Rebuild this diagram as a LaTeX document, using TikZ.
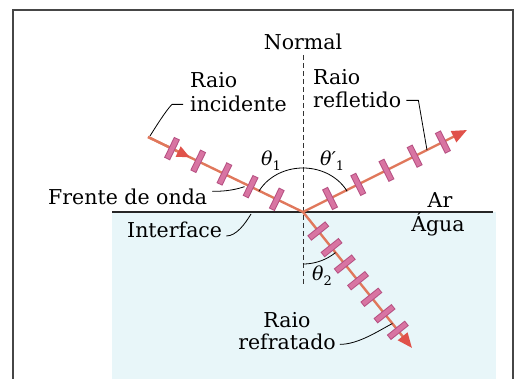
\documentclass[tikz,border=0pt]{standalone}
\usepackage{fontspec}
\setmainfont{DejaVu Serif}
\usetikzlibrary{calc,arrows.meta}
\definecolor{water}{RGB}{232,246,249}
\definecolor{raycol}{RGB}{224,120,92}
\definecolor{tickdark}{RGB}{182,80,130}
\definecolor{ticklight}{RGB}{216,116,162}
\definecolor{tipcol}{RGB}{224,82,74}
\definecolor{framecol}{RGB}{70,70,70}
\newcommand{\angsub}[1]{\raisebox{-4.5pt}{\fontsize{13}{14}\selectfont\upshape #1}}
\begin{document}
\begin{tikzpicture}[x=1pt,y=-1pt,
  lbl/.style={font=\fontsize{20.5}{24}\selectfont, inner sep=0pt},
  anglbl/.style={font=\fontsize{19}{22}\selectfont\itshape, inner sep=0pt},
  ray/.style={line width=2.4pt, draw=raycol},
  tickout/.style={line width=6.5pt, draw=tickdark},
  tickin/.style={line width=4.5pt, draw=ticklight},
  leader/.style={line width=0.8pt, draw=black},
  bigtip/.style={-{Triangle[length=15pt,width=12pt,color=tipcol]}}]
\useasboundingbox (0,0) rectangle (515,379);
% water
\fill[water] (112,212) rectangle (496,379);
% frame
\draw[line width=1.3pt, framecol] (13,379) -- (13,10) -- (513,10) -- (513,379);
% key points
\coordinate (O) at (303,212);
\coordinate (S) at (148,137);
\coordinate (R) at (467,130);
\coordinate (T) at (412,348);
\coordinate (N1) at (303,55);
\coordinate (N2) at (303,285);
\coordinate (IL) at (112,212);
\coordinate (IR) at (493,212);
% normal and interface
\draw[dash pattern=on 5pt off 3pt, line width=0.8pt, black!80] (N1) -- (N2);
\draw[line width=1.1pt, black!85] (IL) -- (IR);
% rays
\draw[ray] (S) -- (O);
\draw[ray, -{Triangle[length=13pt,width=11pt,color=tipcol]}] (S) -- ($(S)!0.27!(O)$);
\draw[ray, bigtip] (O) -- (R);
\draw[ray, bigtip] (O) -- (T);
% wave fronts
\foreach \t [count=\i] in {0.155,0.324,0.493,0.662,0.831} {
  \coordinate (i\i) at ($(S)!\t!(O)$);
  \draw[tickout] ($(i\i)!11.5pt!90:(O)$) -- ($(i\i)!11.5pt!-90:(O)$);
  \draw[tickin] ($(i\i)!10.5pt!90:(O)$) -- ($(i\i)!10.5pt!-90:(O)$);
}
\foreach \t [count=\i] in {0.165,0.337,0.509,0.681,0.853} {
  \coordinate (r\i) at ($(O)!\t!(R)$);
  \draw[tickout] ($(r\i)!11.5pt!90:(R)$) -- ($(r\i)!11.5pt!-90:(R)$);
  \draw[tickin] ($(r\i)!10.5pt!90:(R)$) -- ($(r\i)!10.5pt!-90:(R)$);
}
\foreach \t [count=\i] in {0.14,0.262,0.383,0.505,0.627,0.748,0.87} {
  \coordinate (t\i) at ($(O)!\t!(T)$);
  \draw[tickout] ($(t\i)!11.5pt!90:(T)$) -- ($(t\i)!11.5pt!-90:(T)$);
  \draw[tickin] ($(t\i)!10.5pt!90:(T)$) -- ($(t\i)!10.5pt!-90:(T)$);
}
% angle arcs
\draw[line width=0.8pt] plot[domain=28:152, samples=50, smooth] ({303+50*cos(\x)}, {212-44*sin(\x)});
\draw[line width=0.8pt] plot[domain=0:38.7, samples=30, smooth] ({303+52*sin(\x)}, {212+52*cos(\x)});
% labels
\node[lbl, anchor=base] (normal) at (303,50) {Normal};
\node[lbl, anchor=base west] (inc1) at (190,88) {Raio};
\node[lbl, anchor=base west] (inc2) at (190,112) {incidente};
\node[lbl, anchor=base west] (ref1) at (313,85) {Raio};
\node[lbl, anchor=base west] (ref2) at (313,108) {refletido};
\node[lbl, anchor=base west] (fr) at (48,205) {Frente de onda};
\node[lbl, anchor=base west] (intf) at (127,238) {Interface};
\node[lbl, anchor=base] (ar) at (440,208) {Ar};
\node[lbl, anchor=base] (agua) at (438,232) {Água};
\node[lbl, anchor=base] (rr1) at (287,328) {Raio};
\node[lbl, anchor=base] (rr2) at (287,350) {refratado};
\node[anglbl, anchor=base west] (th1) at (261,166) {θ\angsub{1}};
\node[anglbl, anchor=base west] (th1p) at (320,166) {θ′\angsub{1}};
\node[anglbl, anchor=base west] (th2) at (312,281) {θ\angsub{2}};
% leaders
\draw[leader] ($(inc2.west)+(-7,0)$) -- ++(-11,0) .. controls +(-6,6) and +(5,-8) .. ($(S)+(2,-1)$);
\draw[leader] ($(ref2.east)+(5,0)$) -- ++(12,0) -- ($(O)!0.756!(R)$);
\draw[leader] ($(fr.east)+(5,-6)$) .. controls +(10,0) and +(-12,4) .. ($(i4)+(-6,0)$);
\draw[leader] ($(intf.base east)+(4,-2)$) .. controls +(10,0) and +(-6,10) .. ($(O)+(-52,2)$);
\draw[leader] ($(rr2.east)+(4,2)$) .. controls +(18,0) and +(-15,8) .. ($(O)!0.82!(T)$);
\end{tikzpicture}
\end{document}
